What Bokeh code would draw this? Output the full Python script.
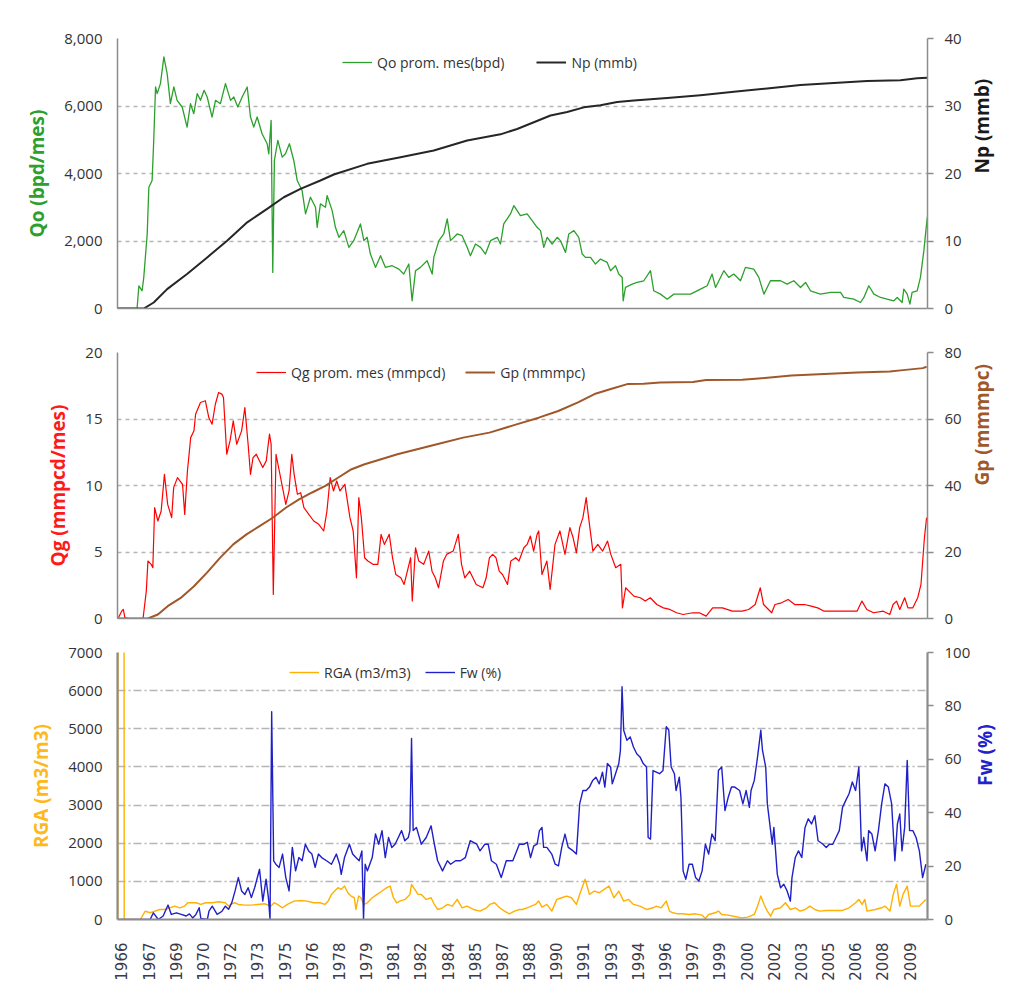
import math
from bokeh.plotting import figure
from bokeh.models import (Range1d, LinearAxis, FixedTicker, NumeralTickFormatter,
                          CustomJSTickFormatter, Legend, LegendItem, ColumnDataSource)
from bokeh.layouts import column
from bokeh.embed import file_html
from bokeh.resources import INLINE

# ---------------- data (decimal year, value) ----------------
X_START, X_END = 1965.78, 2010.49

x_ticks = [1966.0, 1967.5, 1969.0, 1970.5, 1972.0, 1973.5, 1975.0, 1976.5, 1978.0, 1979.5,
           1981.0, 1982.5, 1984.0, 1985.5, 1987.0, 1988.5, 1990.0, 1991.5, 1993.0, 1994.5,
           1996.0, 1997.5, 1999.0, 2000.5, 2002.0, 2003.5, 2005.0, 2006.5, 2008.0, 2009.5]

# Qo prom. mes (bpd)
qo_points = [
    (1965.76, 0), (1966.86, 0), (1966.96, 673), (1967.14, 525), (1967.23, 921), (1967.42, 2208),
    (1967.51, 3594), (1967.69, 3792), (1967.78, 4980), (1967.88, 6564), (1967.97, 6366),
    (1968.15, 6663), (1968.34, 7455), (1968.52, 6960), (1968.70, 6069), (1968.89, 6564),
    (1969.07, 6168), (1969.35, 5970), (1969.62, 5376), (1969.81, 6069), (1969.99, 5772),
    (1970.18, 6366), (1970.36, 6168), (1970.56, 6465), (1970.73, 6267), (1971.00, 5673),
    (1971.19, 6168), (1971.46, 6069), (1971.74, 6663), (1972.02, 6168), (1972.20, 6267),
    (1972.42, 5970), (1972.66, 6267), (1972.94, 6564), (1973.12, 5673), (1973.30, 5376),
    (1973.49, 5673), (1973.76, 5178), (1974.04, 4881), (1974.13, 4584), (1974.26, 5574),
    (1974.35, 1069), (1974.44, 4386), (1974.63, 4980), (1974.87, 4485), (1975.05, 4584),
    (1975.27, 4881), (1975.51, 4386), (1975.70, 3792), (1975.97, 3495), (1976.16, 2802),
    (1976.43, 3297), (1976.71, 3000), (1976.80, 2406), (1976.98, 3099), (1977.26, 3000),
    (1977.35, 3346), (1977.63, 2901), (1977.81, 2406), (1978.00, 2109), (1978.27, 2307),
    (1978.55, 1812), (1978.82, 2010), (1979.19, 2505), (1979.38, 2010), (1979.56, 2109),
    (1979.74, 1614), (1980.02, 1218), (1980.30, 1564), (1980.57, 1218), (1980.94, 1267),
    (1981.31, 1168), (1981.58, 1020), (1981.86, 1317), (1982.04, 228), (1982.23, 1119),
    (1982.50, 1218), (1982.87, 1416), (1983.15, 1020), (1983.24, 1515), (1983.52, 2010),
    (1983.79, 2208), (1983.98, 2653), (1984.16, 2010), (1984.53, 2208), (1984.80, 2158),
    (1985.08, 1812), (1985.26, 1564), (1985.54, 1911), (1985.82, 1812), (1986.09, 1614),
    (1986.37, 2010), (1986.74, 2109), (1986.92, 1911), (1987.10, 2505), (1987.47, 2802),
    (1987.66, 3049), (1988.02, 2750), (1988.39, 2802), (1988.67, 2604), (1988.94, 2406),
    (1989.13, 2307), (1989.31, 1812), (1989.50, 2109), (1989.77, 1911), (1990.05, 2109),
    (1990.23, 2010), (1990.51, 1663), (1990.69, 2208), (1990.97, 2307), (1991.24, 2109),
    (1991.43, 1614), (1991.61, 1515), (1991.89, 1515), (1992.16, 1317), (1992.44, 1465),
    (1992.81, 1366), (1992.99, 1119), (1993.27, 1267), (1993.45, 1020), (1993.64, 921),
    (1993.69, 228), (1993.82, 624), (1994.19, 723), (1994.46, 772), (1994.83, 822),
    (1995.20, 1119), (1995.38, 525), (1995.75, 426), (1996.12, 277), (1996.49, 426),
    (1996.95, 426), (1997.41, 426), (1997.96, 574), (1998.33, 673), (1998.60, 1020),
    (1998.79, 624), (1999.25, 1119), (1999.52, 921), (1999.80, 1020), (2000.17, 822),
    (2000.44, 1218), (2000.90, 1168), (2001.18, 921), (2001.46, 426), (2001.64, 624),
    (2001.82, 822), (2002.38, 822), (2002.74, 723), (2003.11, 822), (2003.48, 624),
    (2003.76, 772), (2004.03, 525), (2004.58, 426), (2005.14, 475), (2005.69, 475),
    (2005.87, 327), (2006.42, 277), (2006.79, 178), (2006.98, 327), (2007.25, 673),
    (2007.53, 426), (2007.90, 327), (2008.26, 277), (2008.63, 228), (2008.82, 327),
    (2009.09, 178), (2009.18, 574), (2009.37, 426), (2009.52, 129), (2009.64, 475),
    (2009.92, 525), (2010.10, 921), (2010.29, 1713), (2010.40, 2307), (2010.48, 2703),
]

# Np (mmb)
np_points = [
    (1965.76, 0), (1967.23, 0), (1967.78, 0.89), (1968.52, 2.87), (1969.62, 5.10),
    (1970.73, 7.57), (1971.83, 10.05), (1972.94, 12.77), (1974.04, 14.75), (1974.96, 16.48),
    (1975.88, 17.72), (1976.98, 18.96), (1977.72, 19.85), (1979.56, 21.43), (1981.40, 22.42),
    (1983.24, 23.41), (1985.08, 24.90), (1986.92, 25.8), (1987.84, 26.6), (1988.76, 27.6),
    (1989.68, 28.6), (1990.60, 29.1), (1991.52, 29.8), (1992.44, 30.1), (1993.36, 30.6),
    (1994.28, 30.8), (1996.12, 31.2), (1997.96, 31.6), (1999.80, 32.1), (2001.64, 32.6),
    (2003.48, 33.1), (2005.32, 33.4), (2007.16, 33.7), (2009.00, 33.8), (2009.92, 34.1),
    (2010.48, 34.2),
]

# Qg prom. mes (mmpcd)
qg_points = [
    (1965.83, 0.05), (1966.01, 0.55), (1966.10, 0.68), (1966.19, 0.05), (1966.38, 0),
    (1967.19, 0), (1967.37, 2.06), (1967.46, 4.32), (1967.64, 4.07), (1967.73, 3.82),
    (1967.83, 8.33), (1968.01, 7.33), (1968.19, 8.08), (1968.37, 10.84), (1968.55, 8.58),
    (1968.77, 7.58), (1968.88, 9.84), (1969.09, 10.59), (1969.37, 10.09), (1969.49, 7.83),
    (1969.64, 11.09), (1969.82, 13.60), (1970.00, 14.11), (1970.09, 15.36), (1970.36, 16.24),
    (1970.63, 16.37), (1970.82, 15.11), (1971.00, 14.61), (1971.18, 16.11), (1971.36, 16.99),
    (1971.54, 16.87), (1971.63, 16.62), (1971.81, 12.35), (1971.99, 13.35), (1972.17, 14.86),
    (1972.36, 13.10), (1972.63, 14.11), (1972.81, 15.86), (1972.99, 13.10), (1973.12, 10.84),
    (1973.26, 12.10), (1973.44, 12.35), (1973.62, 11.85), (1973.80, 11.35), (1973.99, 11.85),
    (1974.17, 13.86), (1974.26, 13.10), (1974.38, 1.81), (1974.53, 12.35), (1974.71, 11.09),
    (1974.89, 9.84), (1975.07, 8.58), (1975.25, 9.59), (1975.40, 12.35), (1975.53, 10.84),
    (1975.71, 9.34), (1975.89, 9.46), (1976.07, 8.33), (1976.34, 7.83), (1976.61, 7.33),
    (1976.89, 7.08), (1977.16, 6.58), (1977.34, 8.08), (1977.52, 10.59), (1977.70, 9.59),
    (1977.88, 10.34), (1978.06, 9.59), (1978.33, 10.09), (1978.61, 7.58), (1978.79, 6.58),
    (1978.97, 3.06), (1979.10, 9.09), (1979.24, 7.58), (1979.42, 4.57), (1979.60, 4.32),
    (1979.88, 4.07), (1980.15, 4.07), (1980.33, 6.33), (1980.51, 5.57), (1980.78, 6.33),
    (1980.96, 4.57), (1981.14, 3.31), (1981.42, 3.06), (1981.60, 2.56), (1981.78, 3.56),
    (1981.96, 4.57), (1982.05, 1.31), (1982.23, 5.32), (1982.41, 4.32), (1982.68, 4.07),
    (1982.96, 5.07), (1983.14, 3.56), (1983.32, 3.06), (1983.50, 2.31), (1983.77, 4.32),
    (1983.95, 4.82), (1984.31, 5.07), (1984.59, 6.33), (1984.77, 4.07), (1984.95, 3.06),
    (1985.22, 3.56), (1985.58, 2.56), (1985.95, 2.31), (1986.13, 3.06), (1986.31, 4.57),
    (1986.49, 4.82), (1986.67, 4.57), (1986.85, 3.56), (1987.03, 3.31), (1987.31, 2.56),
    (1987.49, 4.32), (1987.76, 4.57), (1987.94, 4.32), (1988.21, 5.32), (1988.39, 5.57),
    (1988.57, 6.20), (1988.75, 5.07), (1988.94, 6.33), (1989.03, 6.58), (1989.21, 3.31),
    (1989.48, 4.32), (1989.66, 2.18), (1989.93, 5.57), (1990.20, 6.58), (1990.48, 4.82),
    (1990.75, 6.83), (1990.93, 6.07), (1991.11, 4.94), (1991.29, 6.83), (1991.47, 7.58),
    (1991.65, 9.09), (1991.83, 7.08), (1992.02, 5.07), (1992.29, 5.57), (1992.56, 5.07),
    (1992.83, 5.82), (1993.01, 4.82), (1993.28, 3.82), (1993.56, 4.07), (1993.65, 0.80),
    (1993.83, 2.31), (1994.01, 2.06), (1994.28, 1.68), (1994.64, 1.56), (1994.91, 1.31),
    (1995.19, 1.56), (1995.55, 1.05), (1995.91, 0.80), (1996.27, 0.68), (1996.64, 0.43),
    (1997.00, 0.30), (1997.54, 0.43), (1997.90, 0.43), (1998.27, 0.18), (1998.63, 0.80),
    (1999.17, 0.80), (1999.72, 0.55), (2000.26, 0.55), (2000.62, 0.68), (2000.98, 1.05),
    (2001.26, 2.31), (2001.44, 1.05), (2001.89, 0.43), (2002.07, 1.05), (2002.43, 1.18),
    (2002.80, 1.43), (2003.16, 1.05), (2003.70, 1.05), (2004.07, 0.93), (2004.43, 0.80),
    (2004.79, 0.55), (2005.51, 0.55), (2006.24, 0.55), (2006.60, 0.55), (2006.87, 1.31),
    (2007.14, 0.68), (2007.51, 0.43), (2008.05, 0.55), (2008.41, 0.30), (2008.59, 1.05),
    (2008.78, 1.31), (2008.96, 0.68), (2009.23, 1.56), (2009.41, 0.80), (2009.68, 0.80),
    (2009.95, 1.56), (2010.13, 2.56), (2010.32, 6.07), (2010.44, 7.58),
]

# Gp (mmmpc)
gp_points = [
    (1965.78, 0), (1967.46, 0), (1968.01, 1.2), (1968.55, 3.7), (1969.27, 6.2), (1970.00, 9.7),
    (1970.72, 13.8), (1971.45, 18.3), (1972.17, 22.3), (1972.90, 25.3), (1973.62, 27.8),
    (1974.35, 30.3), (1975.07, 33.3), (1975.80, 35.8), (1976.52, 37.9), (1977.25, 39.9),
    (1977.97, 42.4), (1978.70, 44.9), (1979.42, 46.4), (1980.33, 47.9), (1981.23, 49.4),
    (1982.32, 50.9), (1983.41, 52.4), (1984.86, 54.4), (1986.31, 55.9), (1987.76, 58.3),
    (1989.03, 60.4), (1990.11, 62.4), (1991.20, 65.0), (1992.11, 67.5), (1993.01, 69.0),
    (1993.92, 70.5), (1994.82, 70.6), (1995.73, 71.0), (1997.54, 71.1), (1998.27, 71.7),
    (2000.26, 71.8), (2001.17, 72.2), (2002.98, 73.1), (2004.79, 73.5), (2006.60, 74.0),
    (2008.41, 74.3), (2009.14, 74.7), (2010.23, 75.3), (2010.44, 75.7),
]

# RGA (m3/m3)
rga_points = [
    (1965.80, 0), (1965.83, 20000), (1966.13, 20000), (1966.15, 0), (1967.04, 0),
    (1967.31, 220), (1967.58, 176), (1967.85, 220), (1968.12, 263), (1968.39, 263),
    (1968.66, 307), (1968.94, 351), (1969.21, 307), (1969.48, 351), (1969.66, 439),
    (1969.84, 439), (1970.11, 439), (1970.38, 395), (1970.65, 439), (1971.01, 439),
    (1971.37, 465), (1971.73, 439), (1971.91, 351), (1972.09, 413), (1972.27, 439),
    (1972.45, 395), (1972.81, 378), (1973.17, 378), (1973.53, 395), (1973.89, 413),
    (1974.25, 351), (1974.43, 439), (1974.61, 395), (1974.88, 307), (1975.16, 395),
    (1975.52, 483), (1975.88, 500), (1976.24, 483), (1976.60, 439), (1976.96, 439),
    (1977.23, 395), (1977.41, 483), (1977.59, 658), (1977.77, 746), (1977.95, 834),
    (1978.13, 790), (1978.31, 878), (1978.49, 702), (1978.67, 615), (1978.85, 571),
    (1978.94, 263), (1979.09, 615), (1979.21, 571), (1979.39, 395), (1979.57, 439),
    (1979.84, 571), (1980.11, 658), (1980.38, 746), (1980.65, 834), (1980.83, 878),
    (1981.01, 571), (1981.19, 439), (1981.37, 483), (1981.65, 527), (1981.92, 658),
    (1982.01, 922), (1982.19, 790), (1982.37, 658), (1982.55, 658), (1982.82, 527),
    (1983.09, 571), (1983.27, 395), (1983.45, 263), (1983.72, 307), (1983.99, 395),
    (1984.26, 351), (1984.53, 527), (1984.80, 307), (1985.07, 351), (1985.43, 263),
    (1985.79, 220), (1986.15, 307), (1986.33, 395), (1986.60, 439), (1986.87, 307),
    (1987.14, 220), (1987.41, 149), (1987.69, 220), (1987.96, 263), (1988.13, 263),
    (1988.49, 325), (1988.85, 395), (1989.03, 483), (1989.21, 325), (1989.48, 395),
    (1989.75, 220), (1990.03, 527), (1990.30, 571), (1990.57, 615), (1990.84, 571),
    (1991.11, 395), (1991.29, 658), (1991.59, 1054), (1991.83, 658), (1992.10, 746),
    (1992.37, 702), (1992.64, 790), (1992.91, 878), (1993.18, 571), (1993.45, 746),
    (1993.72, 483), (1993.99, 527), (1994.26, 395), (1994.62, 351), (1994.98, 263),
    (1995.34, 307), (1995.52, 351), (1995.79, 307), (1996.07, 483), (1996.25, 220),
    (1996.43, 176), (1996.70, 149), (1996.97, 149), (1997.33, 132), (1997.69, 149),
    (1998.05, 114), (1998.23, 26), (1998.41, 132), (1998.77, 176), (1998.95, 220),
    (1999.13, 132), (1999.49, 114), (1999.85, 79), (2000.21, 44), (2000.57, 61),
    (2000.93, 132), (2001.11, 351), (2001.29, 615), (2001.47, 395), (2001.65, 220),
    (2001.83, 88), (2002.01, 263), (2002.38, 307), (2002.65, 439), (2002.92, 263),
    (2003.19, 307), (2003.46, 220), (2003.73, 263), (2004.00, 351), (2004.27, 263),
    (2004.54, 220), (2004.90, 237), (2005.80, 237), (2006.16, 307), (2006.52, 439),
    (2006.70, 527), (2006.88, 395), (2007.03, 527), (2007.15, 220), (2007.60, 263),
    (2007.96, 307), (2008.14, 351), (2008.42, 220), (2008.60, 658), (2008.78, 922),
    (2008.96, 351), (2009.14, 658), (2009.37, 878), (2009.55, 351), (2009.77, 351),
    (2010.04, 351), (2010.22, 439), (2010.40, 527),
]

# Fw (%)
fw_points = [
    (1965.78, 0), (1967.58, 0), (1967.76, 2.5), (1968.03, 0), (1968.30, 1.3), (1968.57, 5.4),
    (1968.75, 1.9), (1969.03, 2.5), (1969.30, 1.9), (1969.57, 1.3), (1969.75, 2.1),
    (1969.93, 0.6), (1970.11, 1.9), (1970.29, 4.4), (1970.38, 0.4), (1970.74, 0),
    (1970.83, 3.1), (1971.01, 5.0), (1971.28, 1.9), (1971.55, 3.1), (1971.73, 5.0),
    (1971.91, 3.8), (1972.09, 6.3), (1972.27, 10.7), (1972.45, 15.7), (1972.63, 10.7),
    (1972.81, 9.4), (1972.99, 11.9), (1973.17, 8.2), (1973.35, 11.9), (1973.62, 18.8),
    (1973.80, 6.9), (1973.98, 15.1), (1974.11, 8.2), (1974.20, 0), (1974.29, 77.8),
    (1974.40, 22.0), (1974.52, 20.7), (1974.70, 19.5), (1974.89, 24.5), (1975.07, 15.7),
    (1975.25, 10.7), (1975.43, 27.0), (1975.61, 18.2), (1975.79, 23.2), (1975.97, 22.0),
    (1976.15, 28.2), (1976.33, 25.7), (1976.51, 24.5), (1976.69, 19.5), (1976.87, 24.5),
    (1977.05, 23.2), (1977.32, 22.0), (1977.59, 20.7), (1977.86, 24.5), (1978.04, 20.7),
    (1978.13, 16.9), (1978.31, 23.2), (1978.58, 28.2), (1978.76, 24.5), (1978.94, 23.2),
    (1979.12, 22.0), (1979.27, 25.7), (1979.36, 0), (1979.45, 20.7), (1979.57, 18.2),
    (1979.84, 23.2), (1980.02, 32.0), (1980.20, 28.2), (1980.38, 33.3), (1980.56, 23.2),
    (1980.74, 30.7), (1980.92, 27.0), (1981.10, 28.2), (1981.28, 30.7), (1981.46, 33.3),
    (1981.64, 29.5), (1981.83, 30.7), (1981.92, 33.3), (1982.01, 67.8), (1982.10, 33.3),
    (1982.28, 34.5), (1982.55, 28.2), (1982.82, 30.7), (1983.09, 35.1), (1983.27, 28.2),
    (1983.45, 22.0), (1983.72, 18.2), (1983.99, 22.0), (1984.17, 20.7), (1984.44, 22.0),
    (1984.71, 22.0), (1984.98, 23.2), (1985.25, 29.5), (1985.61, 28.2), (1985.79, 25.7),
    (1986.06, 28.2), (1986.24, 28.2), (1986.42, 22.0), (1986.69, 20.7), (1986.96, 15.7),
    (1987.24, 22.0), (1987.60, 22.0), (1987.96, 28.2), (1988.22, 28.2), (1988.40, 28.9),
    (1988.58, 23.2), (1988.76, 27.6), (1988.94, 28.2), (1989.07, 33.3), (1989.21, 34.5),
    (1989.30, 27.0), (1989.48, 27.0), (1989.75, 24.5), (1989.94, 20.7), (1990.12, 20.1),
    (1990.30, 27.0), (1990.48, 32.0), (1990.66, 27.0), (1990.93, 25.7), (1991.11, 24.5),
    (1991.29, 43.3), (1991.47, 48.3), (1991.65, 48.3), (1991.83, 49.6), (1992.01, 52.1),
    (1992.19, 53.3), (1992.37, 50.8), (1992.55, 55.2), (1992.68, 49.6), (1992.82, 58.4),
    (1993.00, 57.1), (1993.09, 50.8), (1993.27, 54.6), (1993.45, 58.4), (1993.54, 63.4),
    (1993.63, 87.2), (1993.72, 70.9), (1993.90, 67.1), (1994.08, 68.4), (1994.26, 64.6),
    (1994.44, 62.1), (1994.62, 60.9), (1994.80, 58.4), (1994.98, 57.1), (1995.07, 30.7),
    (1995.20, 30.1), (1995.34, 55.8), (1995.52, 55.2), (1995.70, 54.6), (1995.89, 55.8),
    (1996.07, 72.2), (1996.21, 70.9), (1996.34, 57.1), (1996.52, 54.6), (1996.61, 48.3),
    (1996.79, 53.3), (1996.88, 45.8), (1997.00, 18.2), (1997.15, 15.1), (1997.33, 20.7),
    (1997.51, 20.7), (1997.69, 15.7), (1997.87, 14.4), (1998.05, 18.2), (1998.23, 28.2),
    (1998.41, 24.5), (1998.59, 32.0), (1998.77, 29.5), (1998.95, 55.8), (1999.13, 57.1),
    (1999.31, 40.8), (1999.49, 45.8), (1999.67, 49.6), (1999.85, 49.6), (2000.12, 48.3),
    (2000.30, 43.3), (2000.48, 48.3), (2000.66, 42.0), (2000.75, 48.3), (2000.93, 52.1),
    (2001.11, 60.9), (2001.29, 70.9), (2001.38, 63.4), (2001.56, 57.1), (2001.65, 43.3),
    (2001.83, 33.3), (2001.92, 28.2), (2002.01, 34.5), (2002.20, 16.9), (2002.38, 11.9),
    (2002.56, 13.2), (2002.74, 10.7), (2002.92, 6.9), (2003.01, 15.7), (2003.19, 23.2),
    (2003.37, 25.7), (2003.55, 23.2), (2003.73, 34.5), (2003.91, 37.7), (2004.09, 35.8),
    (2004.27, 38.9), (2004.45, 29.5), (2004.72, 28.2), (2004.90, 27.0), (2005.08, 28.2),
    (2005.26, 28.2), (2005.44, 30.7), (2005.62, 33.3), (2005.80, 42.0), (2005.98, 44.6),
    (2006.16, 47.1), (2006.34, 51.5), (2006.52, 48.3), (2006.70, 57.1), (2006.85, 25.7),
    (2006.97, 30.7), (2007.15, 22.0), (2007.24, 33.3), (2007.42, 32.0), (2007.60, 25.7),
    (2007.78, 33.3), (2007.96, 43.3), (2008.14, 50.8), (2008.33, 49.6), (2008.51, 43.3),
    (2008.69, 22.0), (2008.83, 35.8), (2008.96, 39.5), (2009.08, 25.7), (2009.23, 34.5),
    (2009.37, 59.6), (2009.50, 33.3), (2009.68, 33.3), (2009.86, 30.7), (2010.04, 25.7),
    (2010.22, 15.7), (2010.40, 20.7),
]

# axis tick values
qo_ticks = [0, 2000, 4000, 6000, 8000]
np_ticks = [0, 10, 20, 30, 40]
qg_ticks = [0, 5, 10, 15, 20]
gp_ticks = [0, 20, 40, 60, 80]
rga_ticks = [0, 1000, 2000, 3000, 4000, 5000, 6000, 7000]
fw_ticks = [0, 20, 40, 60, 80, 100]

# ---------------- styling ----------------
TICK_FONT = "Open Sans"
TICK_SIZE = "15px"
TICK_COLOR = "#333333"
TITLE_SIZE = "19px"
AXIS_GRAY = "#8C8C8C"


def src(points):
    return ColumnDataSource(dict(x=[p[0] for p in points], y=[p[1] for p in points]))


def make_panel(height, width, bl, br, bt, bb, ymax, lticks, rmax, rticks,
               ltitle, lcolor, rtitle, rcolor, grid_dash, lformat, show_x,
               axis_w=1.5, l_title_standoff=11, r_title_standoff=17):
    p = figure(width=width, height=height,
               x_range=Range1d(X_START, X_END), y_range=Range1d(0, ymax),
               output_backend="svg", toolbar_location=None,
               min_border_left=bl, min_border_right=br, min_border_top=bt, min_border_bottom=bb,
               outline_line_color=None, background_fill_color="white", border_fill_color="white")
    p.extra_y_ranges = {"r": Range1d(0, rmax)}
    p.xgrid.visible = False
    p.ygrid.grid_line_color = "#B5B5B5"
    p.ygrid.grid_line_dash = grid_dash
    p.ygrid.grid_line_width = 1.6

    ya = p.yaxis[0]
    ya.ticker = FixedTicker(ticks=lticks)
    ya.formatter = NumeralTickFormatter(format=lformat)
    ya.axis_line_color = AXIS_GRAY
    ya.axis_line_width = axis_w
    ya.major_tick_out = 0
    ya.major_tick_in = 0
    ya.minor_tick_out = 0
    ya.minor_tick_in = 0
    ya.major_label_standoff = 15
    ya.major_label_text_font = TICK_FONT
    ya.major_label_text_font_size = TICK_SIZE
    ya.major_label_text_color = TICK_COLOR
    ya.axis_label = ltitle
    ya.axis_label_text_font = TICK_FONT
    ya.axis_label_text_font_size = TITLE_SIZE
    ya.axis_label_text_font_style = "bold"
    ya.axis_label_text_color = lcolor
    ya.axis_label_standoff = l_title_standoff

    ra = LinearAxis(y_range_name="r", ticker=FixedTicker(ticks=rticks))
    ra.axis_line_color = AXIS_GRAY
    ra.axis_line_width = axis_w
    ra.major_tick_line_color = AXIS_GRAY
    ra.major_tick_line_width = 1.5
    ra.major_tick_out = 6
    ra.major_tick_in = 0
    ra.minor_tick_out = 0
    ra.minor_tick_in = 0
    ra.major_label_standoff = 11
    ra.major_label_text_font = TICK_FONT
    ra.major_label_text_font_size = TICK_SIZE
    ra.major_label_text_color = TICK_COLOR
    ra.axis_label = rtitle
    ra.axis_label_text_font = TICK_FONT
    ra.axis_label_text_font_size = TITLE_SIZE
    ra.axis_label_text_font_style = "bold"
    ra.axis_label_text_color = rcolor
    ra.axis_label_standoff = r_title_standoff
    ra.axis_label_orientation = math.pi / 2
    p.add_layout(ra, "right")

    xa = p.xaxis[0]
    xa.axis_line_color = AXIS_GRAY
    xa.axis_line_width = axis_w
    xa.major_tick_out = 0
    xa.major_tick_in = 0
    xa.minor_tick_out = 0
    xa.minor_tick_in = 0
    if show_x:
        xa.ticker = FixedTicker(ticks=x_ticks)
        xa.formatter = CustomJSTickFormatter(code="return String(Math.floor(tick + 1e-6));")
        xa.major_label_orientation = math.pi / 2
        xa.major_label_standoff = 23
        xa.major_label_text_font = "DejaVu Sans"
        xa.major_label_text_font_size = "15px"
        xa.major_label_text_color = "#3A3A4A"
    else:
        xa.ticker = FixedTicker(ticks=[])
        xa.major_label_standoff = 0
    return p


def add_legend(p, items, loc, spacing):
    lg = Legend(items=[LegendItem(label=t, renderers=[r]) for t, r in items],
                orientation="horizontal", location=loc, spacing=spacing,
                padding=4, margin=0, glyph_width=30, label_standoff=5,
                border_line_color=None, background_fill_alpha=0,
                label_text_font=TICK_FONT, label_text_font_size="14px",
                label_text_color="#333333", label_height=20, glyph_height=20)
    p.add_layout(lg)


W = 1020

# ---- panel 1: Qo / Np ----  frame x 117..927, y 38..308
p1 = make_panel(330, W, 117, 93, 38, 22, 8000, qo_ticks, 40, np_ticks,
                "Qo (bpd/mes)", "#2CA02C", "Np (mmb)", "#1A1A1A", "4 4", "0,0", False)
r_qo = p1.line("x", "y", source=src(qo_points), line_color="#2CA02C", line_width=1.3, line_join="round")
r_np = p1.line("x", "y", source=src(np_points), line_color="#262626", line_width=2.0,
               line_join="round", y_range_name="r")
add_legend(p1, [("Qo prom. mes(bpd)", r_qo), ("Np (mmb)", r_np)], (225, 236), 32)

# ---- panel 2: Qg / Gp ----  frame x 115..937, y 352..618
p2 = make_panel(306, W, 115, 83, 22, 18, 20, qg_ticks, 80, gp_ticks,
                "Qg (mmpcd/mes)", "#FF1A1A", "Gp (mmmpc)", "#A0582A", "4 4", "0", False)
r_qg = p2.line("x", "y", source=src(qg_points), line_color="#FF0000", line_width=1.2, line_join="round")
r_gp = p2.line("x", "y", source=src(gp_points), line_color="#A0582A", line_width=2.0,
               line_join="round", y_range_name="r")
add_legend(p2, [("Qg prom. mes (mmpcd)", r_qg), ("Gp (mmmpc)", r_gp)], (139, 236), 20)

# ---- panel 3: RGA / Fw ----  frame x 110..937, y 652..919
p3 = make_panel(363, W, 110, 83, 16, 80, 7000, rga_ticks, 100, fw_ticks,
                "RGA (m3/m3)", "#FFB81C", "Fw (%)", "#2222CC", "8 3 2 3", "0", True,
                axis_w=2.2, r_title_standoff=12)
r_rga = p3.line("x", "y", source=src(rga_points), line_color="#FFB000", line_width=1.4, line_join="round")
r_fw = p3.line("x", "y", source=src(fw_points), line_color="#2020C8", line_width=1.4,
               line_join="round", y_range_name="r")
add_legend(p3, [("RGA (m3/m3)", r_rga), ("Fw (%)", r_fw)], (172, 237), 14)

layout = column(p1, p2, p3, spacing=0)
open("out.html", "w").write(file_html(layout, INLINE))
